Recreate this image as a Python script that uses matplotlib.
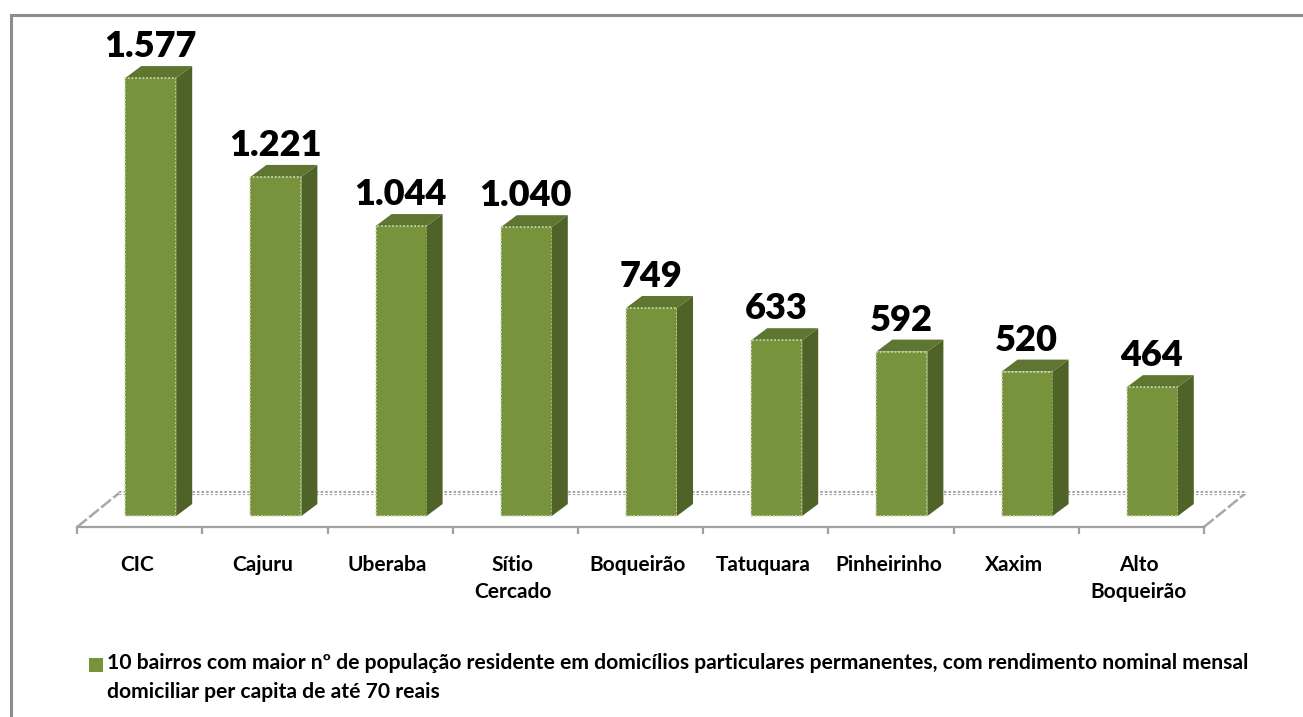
import matplotlib
matplotlib.use("Agg")
import matplotlib.pyplot as plt
from matplotlib.patches import Polygon, Rectangle
from matplotlib.transforms import ScaledTranslation

categories = ["CIC", "Cajuru", "Uberaba", "Sítio\nCercado", "Boqueirão",
              "Tatuquara", "Pinheirinho", "Xaxim", "Alto\nBoqueirão"]
values = [1577, 1221, 1044, 1040, 749, 633, 592, 520, 464]
series_name = ("10 bairros com maior nº de população residente em domicílios particulares permanentes, "
               "com rendimento nominal mensal\ndomiciliar per capita de até 70 reais")

W, H = 1303, 717
FRONT, SIDE, TOP = "#77933C", "#4F6228", "#5F7631"
GREY = "#8C8C8C"
plt.rcParams["font.family"] = ["Lato", "DejaVu Sans"]
plt.rcParams["font.weight"] = "bold"

fig = plt.figure(figsize=(W / 100, H / 100), dpi=100, facecolor="white")
ax = fig.add_axes([0, 0, 1, 1], facecolor="none")

# scales: pixels per category and per unit value
PX_X, PX_Y = 125.2, 0.2777
X0, Y0 = 139.7, 516
ax.set_xlim((0 - X0) / PX_X, (W - X0) / PX_X)
ax.set_ylim((Y0 - H) / PX_Y, Y0 / PX_Y)

# projection depth of the pseudo-3D bars
DX, DY = 16 / PX_X, 12 / PX_Y
SHIFT = 11 / PX_X
BW = 51 / PX_X
AXIS_Y = -11 / PX_Y

xs = [i + SHIFT for i in range(len(values))]
bars = ax.bar(xs, values, width=BW, color=FRONT, edgecolor="#D5DDB8", linewidth=1.1,
              linestyle=(0, (1.2, 1.2)), zorder=5, label=series_name)
for x, v in zip(xs, values):
    l, r = x - BW / 2, x + BW / 2
    ax.add_patch(Polygon([(r, 0), (r + DX, DY), (r + DX, v + DY), (r, v)], fc=SIDE, ec="none", zorder=6))
    ax.add_patch(Polygon([(l, v), (r, v), (r + DX, v + DY), (l + DX, v + DY)], fc=TOP, ec="none", zorder=4))
    ax.text(x - 0.005, v + 31.5 / PX_Y, f"{v:,}".replace(",", "."), ha="center", va="center",
            fontsize=26, fontweight="heavy", color="black", zorder=7)

# floor of the 3D box
bd = 42 / PX_X
bh = 34 / PX_Y
ax.plot([-0.5 + bd, 8.5 + bd], [AXIS_Y + bh] * 2, color="#A6A6A6", lw=3,
        ls=(0, (0.6, 0.5)), zorder=2)
ax.plot([-0.5 + bd, 8.5 + bd], [AXIS_Y + bh] * 2, color="white", lw=0.7, zorder=3)
for x0 in (-0.5, 8.5):
    ax.plot([x0, x0 + bd], [AXIS_Y, AXIS_Y + bh], color="#A8A8A8", lw=1.8,
            ls=(0, (5, 1.2)), zorder=2)

# category axis
for s in ("left", "right", "top"):
    ax.spines[s].set_visible(False)
ax.spines["bottom"].set_position(("data", AXIS_Y))
ax.spines["bottom"].set_bounds(-0.5, 8.5)
ax.spines["bottom"].set_color("#A0A0A0")
ax.spines["bottom"].set_linewidth(1.6)
ax.set_yticks([])
ax.set_xticks(range(len(categories)))
ax.set_xticklabels(categories, fontsize=15, fontweight="bold", color="black", linespacing=1.48, va="top")
ax.tick_params(axis="x", which="major", length=0, pad=20)
label_shift = ScaledTranslation(-2.5 / 100, 0, fig.dpi_scale_trans)
for t in ax.get_xticklabels():
    t.set_transform(t.get_transform() + label_shift)
ax.set_xticks([i - 0.5 for i in range(len(categories) + 1)], minor=True)
ax.tick_params(axis="x", which="minor", length=5, width=1.6, color="#A0A0A0")

# legend
leg = ax.legend(handles=[bars], loc="upper left", bbox_to_anchor=(89 / W, 1 - 653 / H),
                bbox_transform=fig.transFigure, frameon=False, fontsize=15.2,
                handlelength=0.65, handleheight=0.65, handletextpad=0.2,
                borderpad=0, borderaxespad=0)
leg.get_texts()[0].set_linespacing(1.55)
leg.get_texts()[0].set_fontweight("bold")
for h in leg.legend_handles:
    h.set_edgecolor("none")
    h.set_linestyle("-")
    h.set_y(h.get_y() + 9.5)

# outer frame (only top and left edges fall inside the picture)
fig.add_artist(Rectangle((11.3 / W, -0.1), 1.2, 1.1 - 14.5 / H, transform=fig.transFigure,
                         fc="none", ec=GREY, lw=2.2))

fig.savefig("out.png", dpi=100)
